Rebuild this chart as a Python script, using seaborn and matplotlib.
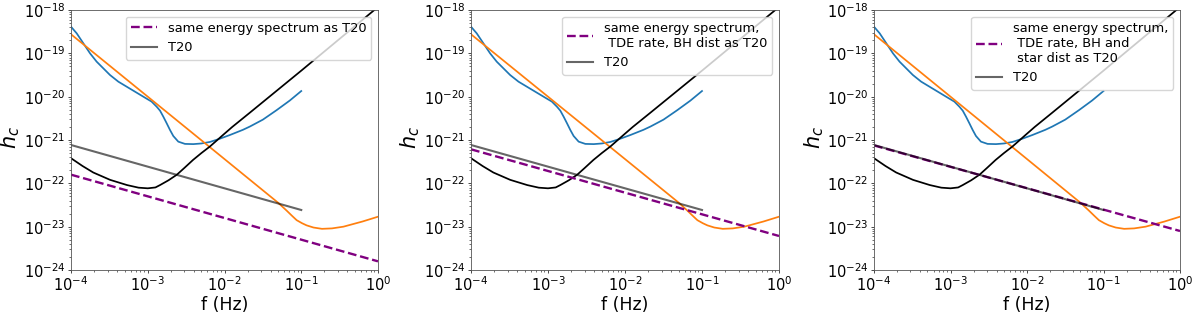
import numpy as np
import pandas as pd
import matplotlib
matplotlib.use("Agg")
import matplotlib.pyplot as plt
import seaborn as sns

# ---- data (log10 values) ----
blue_logf = [-4.0, -3.926, -3.839, -3.752, -3.666, -3.579, -3.492, -3.383, -3.275, -3.166, -3.058,
             -2.949, -2.884, -2.840, -2.797, -2.753, -2.710, -2.667, -2.602, -2.515, -2.406, -2.30,
             -2.19, -2.06, -1.93, -1.76, -1.67, -1.5, -1.32, -1.15, -1.0]
blue_logh = [-18.385, -18.538, -18.769, -19.0, -19.192, -19.346, -19.5, -19.654, -19.769, -19.885, -20.0,
             -20.115, -20.231, -20.323, -20.462, -20.615, -20.769, -20.908, -21.038, -21.09, -21.095, -21.08,
             -21.045, -20.97, -20.885, -20.765, -20.69, -20.53, -20.31, -20.09, -19.87]

orange_logf = [-4.0, -3.0, -2.0, -1.3, -1.19, -1.12, -1.06, -0.99, -0.93, -0.84, -0.73,
               -0.6, -0.45, -0.2, 0.0]
orange_logh = [-18.56, -20.0, -21.44, -22.45, -22.63, -22.75, -22.85, -22.92, -22.97, -23.02, -23.05,
               -23.04, -23.0, -22.88, -22.77]

black_logf = [-4.0, -3.85, -3.71, -3.49, -3.27, -3.12, -3.0, -2.9, -2.84, -2.73, -2.62, -2.52,
              -2.41, -2.3, -2.19, -2.1, -2.02, -1.9, -1.67, -1.0, 0.0]
black_logh = [-21.42, -21.6, -21.75, -21.92, -22.04, -22.1, -22.115, -22.095, -22.04, -21.93, -21.8, -21.64,
              -21.46, -21.3, -21.15, -21.01, -20.885, -20.7, -20.37, -19.4, -17.93]

t20_logf = [-4.0, -1.0]
t20_logh = [-21.115, -22.615]

purple_logf = [-4.0, 0.0]
purple_logh_panels = [[-21.80, -23.80], [-21.215, -23.215], [-21.125, -23.10]]

legend_labels = ["same energy spectrum as T20",
                 "same energy spectrum,\n TDE rate, BH dist as T20",
                 "same energy spectrum,\n TDE rate, BH and\n star dist as T20"]
t20_label = "T20"

xtick_exps = [-4, -3, -2, -1, 0]
ytick_exps = [-24, -23, -22, -21, -20, -19, -18]


def frame(logf, logh):
    return pd.DataFrame({"f": 10.0 ** np.asarray(logf), "h": 10.0 ** np.asarray(logh)})


fig = plt.figure(figsize=(12, 3.15), dpi=100)
lefts = [71 / 1200, 471 / 1200, 874 / 1200]
widths = [307 / 1200, 308 / 1200, 306 / 1200]
bottom = 1 - 270 / 315
height = 260 / 315

for i in range(3):
    ax = fig.add_axes([lefts[i], bottom, widths[i], height])
    ax.set_xscale("log")
    ax.set_yscale("log")
    sns.lineplot(data=frame(blue_logf, blue_logh), x="f", y="h", ax=ax, color="#1f77b4",
                 lw=1.25, sort=False, estimator=None)
    sns.lineplot(data=frame(orange_logf, orange_logh), x="f", y="h", ax=ax, color="#ff7f0e",
                 lw=1.25, sort=False, estimator=None)
    sns.lineplot(data=frame(black_logf, black_logh), x="f", y="h", ax=ax, color="black",
                 lw=1.25, sort=False, estimator=None)
    sns.lineplot(data=frame(purple_logf, purple_logh_panels[i]), x="f", y="h", ax=ax,
                 color="purple", lw=1.7, linestyle="--", sort=False, estimator=None,
                 label=legend_labels[i])
    sns.lineplot(data=frame(t20_logf, t20_logh), x="f", y="h", ax=ax, color="black",
                 alpha=0.6, lw=1.5, sort=False, estimator=None, label=t20_label)
    ax.set_xlim(1e-4, 1e0)
    ax.set_ylim(1e-24, 1e-18)
    ax.set_xticks([10.0 ** e for e in xtick_exps])
    ax.set_yticks([10.0 ** e for e in ytick_exps])
    ax.tick_params(axis="both", which="major", labelsize=10.5, length=2, width=0.5, pad=2)
    ax.tick_params(axis="both", which="minor", length=1.2, width=0.4)
    for sp in ax.spines.values():
        sp.set_linewidth(0.6)
        sp.set_color("#555555")
    ax.set_xlabel("f (Hz)", fontsize=12.5, labelpad=1)
    ax.set_ylabel("$h_c$", fontsize=15)
    ax.yaxis.set_label_coords(-0.158, 0.51)
    ax.legend(loc="upper right", fontsize=9.4, handlelength=2.0)

fig.savefig("out.png", dpi=100)
